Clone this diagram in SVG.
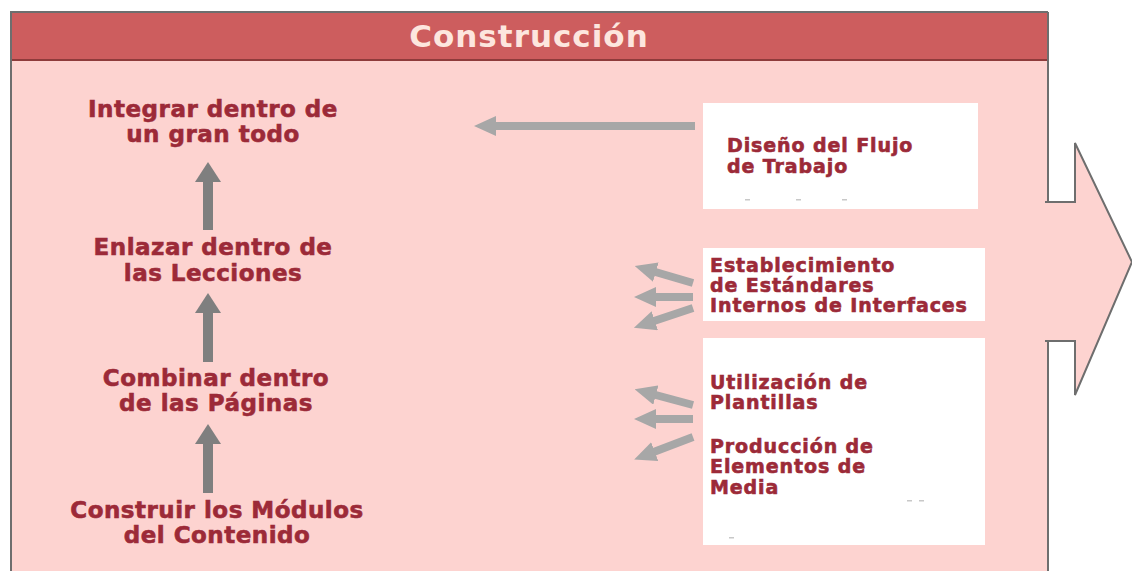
<svg xmlns="http://www.w3.org/2000/svg" width="1132" height="571" viewBox="0 0 1132 571">
  <defs>
    <style>
      .lt { font-family: "DejaVu Sans", Verdana, sans-serif; font-weight: bold; font-size: 23px; letter-spacing: 0.5px; fill: #9c2a38; stroke: #9c2a38; stroke-width: 0.6px; text-anchor: middle; }
      .rt { font-family: "DejaVu Sans", Verdana, sans-serif; font-weight: bold; font-size: 19px; letter-spacing: 0.9px; fill: #9c2a38; stroke: #9c2a38; stroke-width: 0.6px; }
      .hd { font-family: "DejaVu Sans", Verdana, sans-serif; font-weight: bold; font-size: 31px; letter-spacing: 1px; fill: #fde6de; text-anchor: middle; }
      .box { fill: #ffffff; }
      .up { stroke: #7f7f7f; stroke-width: 10; fill: none; }
      .side { stroke: #a7a7a7; stroke-width: 8; fill: none; }
      .border { stroke: #6e6e6e; stroke-width: 2; fill: none; }
    </style>
    <marker id="headUp" markerUnits="userSpaceOnUse" viewBox="0 0 20 26" refX="4" refY="13" markerWidth="20" markerHeight="26" orient="auto">
      <path d="M0,0 L20,13 L0,26 Z" fill="#7f7f7f"/>
    </marker>
    <marker id="headSide" markerUnits="userSpaceOnUse" viewBox="0 0 22 20" refX="4" refY="10" markerWidth="22" markerHeight="20" orient="auto">
      <path d="M0,0 L22,10 L0,20 Z" fill="#a7a7a7"/>
    </marker>
  </defs>

  <g id="frame">
    <rect x="10" y="12" width="1038" height="562" fill="#fdd3d0"/>
    <polygon points="1046,202 1075,202 1075,143 1132,262 1075,395 1075,341 1046,341" fill="#fdd3d0" stroke="#6e6e6e" stroke-width="2"/>
    <rect x="1040" y="203" width="10" height="137" fill="#fdd3d0"/>
    <rect x="10" y="12" width="1038" height="48" fill="#cd5d5e"/>
    <line x1="10" y1="60" x2="1048" y2="60" stroke="#8e3b3b" stroke-width="2"/>
    <line x1="10" y1="12" x2="1048" y2="12" class="border"/>
    <line x1="11" y1="12" x2="11" y2="571" class="border"/>
    <line x1="1048" y1="12" x2="1048" y2="202" class="border"/>
    <line x1="1048" y1="341" x2="1048" y2="571" class="border"/>
    <text x="529" y="47" class="hd">Construcción</text>
  </g>

  <g id="node-integrar">
    <text x="213" y="117" class="lt">Integrar dentro de</text>
    <text x="213" y="142" class="lt">un gran todo</text>
  </g>
  <g id="node-enlazar">
    <text x="213" y="255" class="lt">Enlazar dentro de</text>
    <text x="213" y="281" class="lt">las Lecciones</text>
  </g>
  <g id="node-combinar">
    <text x="216" y="386" class="lt">Combinar dentro</text>
    <text x="216" y="411" class="lt">de las Páginas</text>
  </g>
  <g id="node-construir">
    <text x="217" y="518" class="lt">Construir los Módulos</text>
    <text x="217" y="543" class="lt">del Contenido</text>
  </g>

  <g id="node-diseno">
    <rect x="703" y="103" width="275" height="106" class="box"/>
    <text x="727" y="152" class="rt">Diseño del Flujo</text>
    <text x="727" y="173" class="rt">de Trabajo</text>
    <g fill="#c8c8c8">
      <rect x="745" y="199" width="5" height="1.5"/>
      <rect x="796" y="199" width="5" height="1.5"/>
      <rect x="842" y="199" width="5" height="1.5"/>
    </g>
  </g>
  <g id="node-estandares">
    <rect x="703" y="248" width="282" height="73" class="box"/>
    <text x="710" y="272" class="rt">Establecimiento</text>
    <text x="710" y="292" class="rt">de Estándares</text>
    <text x="710" y="312" class="rt">Internos de Interfaces</text>
  </g>
  <g id="node-plantillas">
    <rect x="703" y="338" width="282" height="207" class="box"/>
    <text x="710" y="389" class="rt">Utilización de</text>
    <text x="710" y="409" class="rt">Plantillas</text>
    <text x="710" y="453" class="rt">Producción de</text>
    <text x="710" y="473" class="rt">Elementos de</text>
    <text x="710" y="494" class="rt">Media</text>
    <g fill="#c8c8c8">
      <rect x="907" y="500" width="5" height="1.5"/>
      <rect x="919" y="500" width="5" height="1.5"/>
      <rect x="729" y="537" width="5" height="1.5"/>
    </g>
  </g>

  <g id="connectors">
    <line x1="208" y1="230" x2="208" y2="178" class="up" marker-end="url(#headUp)"/>
    <line x1="208" y1="362" x2="208" y2="309" class="up" marker-end="url(#headUp)"/>
    <line x1="208" y1="493" x2="208" y2="440" class="up" marker-end="url(#headUp)"/>

    <line x1="695" y1="126" x2="492" y2="126" class="side" marker-end="url(#headSide)"/>

    <line x1="693" y1="283" x2="652" y2="271" class="side" marker-end="url(#headSide)"/>
    <line x1="693" y1="297" x2="652" y2="297" class="side" marker-end="url(#headSide)"/>
    <line x1="693" y1="308" x2="651" y2="322" class="side" marker-end="url(#headSide)"/>

    <line x1="693" y1="405" x2="652" y2="394" class="side" marker-end="url(#headSide)"/>
    <line x1="693" y1="419" x2="652" y2="419" class="side" marker-end="url(#headSide)"/>
    <line x1="693" y1="437" x2="651" y2="453" class="side" marker-end="url(#headSide)"/>
  </g>
</svg>
